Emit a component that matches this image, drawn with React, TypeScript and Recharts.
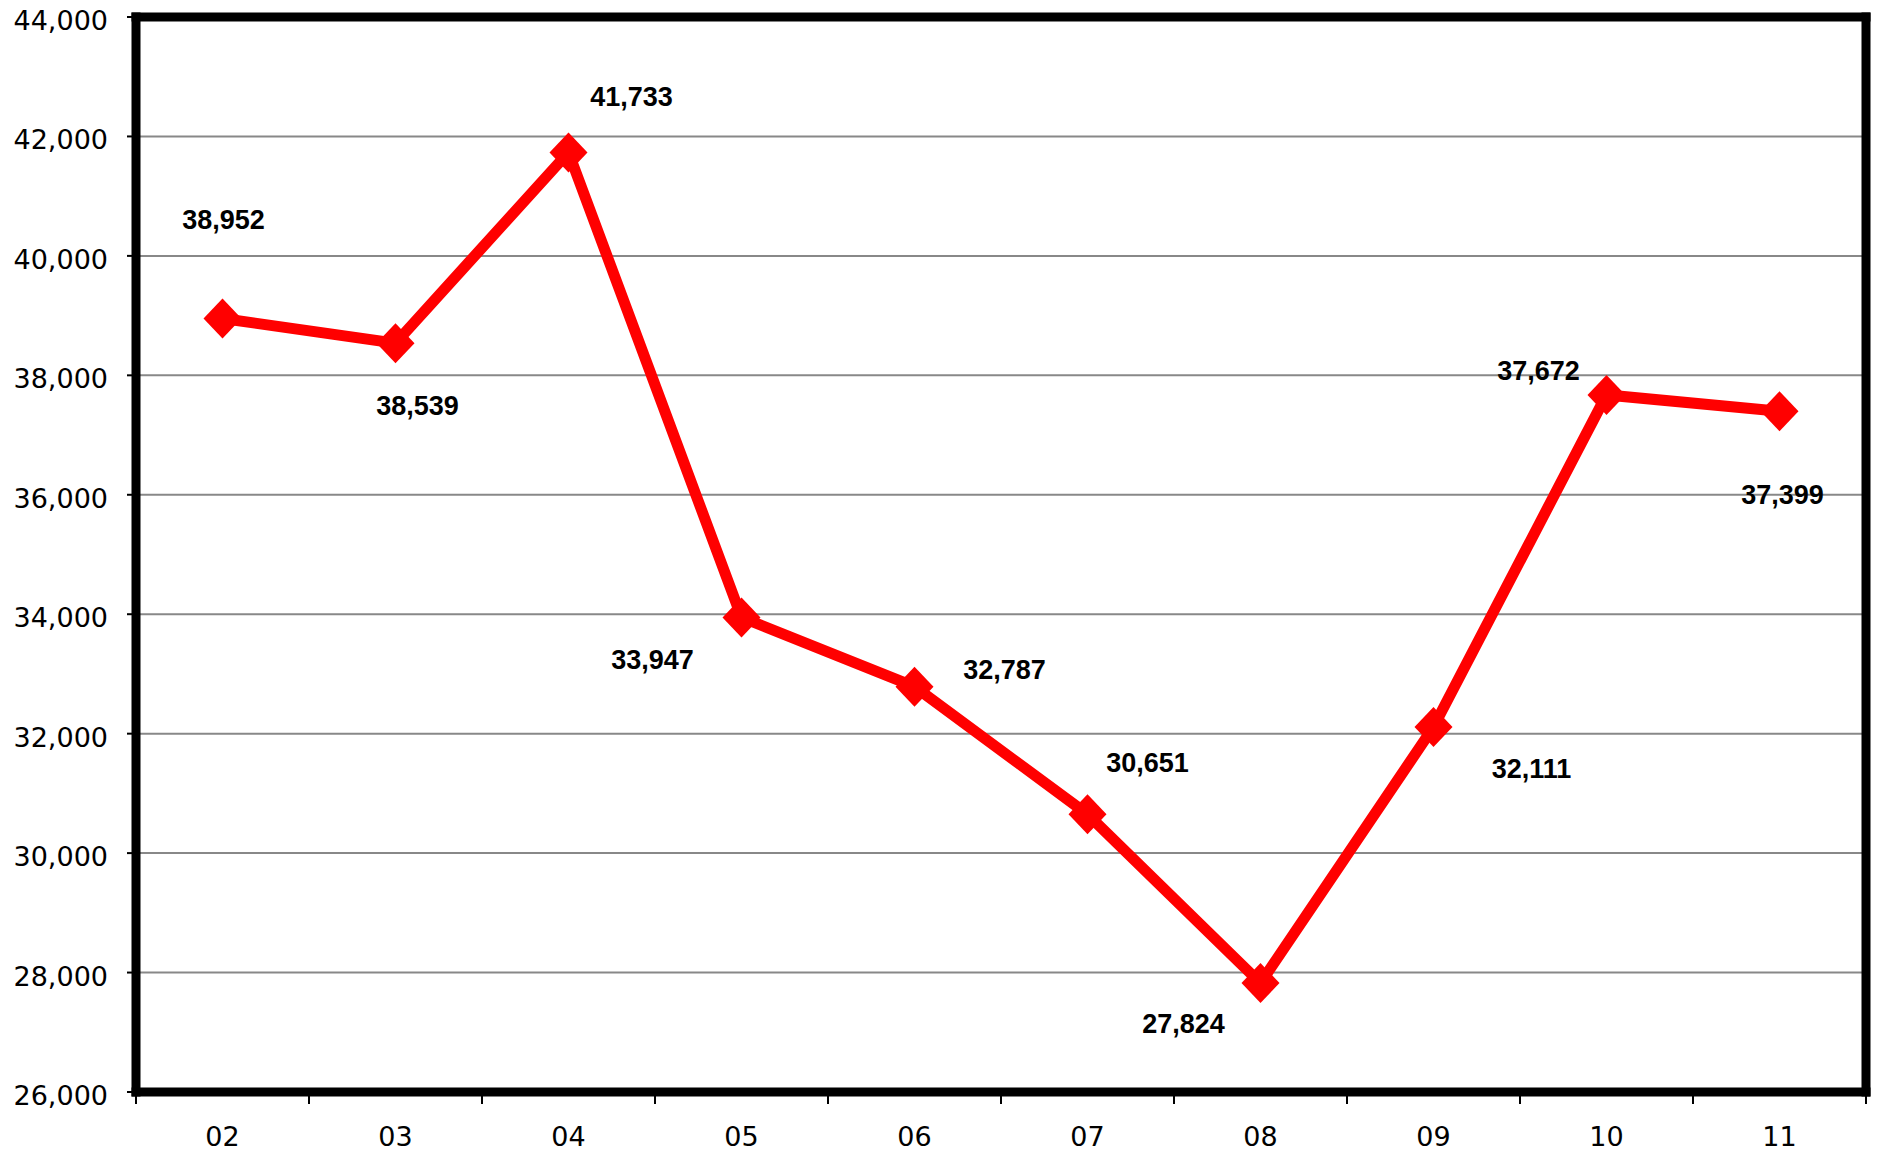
import React from "react";
import { LineChart, Line, XAxis, YAxis, CartesianGrid, LabelList } from "recharts";

const years = ["02", "03", "04", "05", "06", "07", "08", "09", "10", "11"];
const values = [38952, 38539, 41733, 33947, 32787, 30651, 27824, 32111, 37672, 37399];
const yTicks = [26000, 28000, 30000, 32000, 34000, 36000, 38000, 40000, 42000, 44000];
// where each value label sits relative to its marker, in px
const labelShift = [
  [1, -99], [22, 62], [63, -56], [-89, 42], [90, -17],
  [60, -52], [-77, 40], [98, 41], [-68, -25], [3, 83],
];

const data = years.map((year, i) => ({ year, value: values[i] }));

const W = 1881;
const H = 1159;
const margin = { top: 16, right: 14, bottom: 7, left: 0 };
const yAxisWidth = 136;
const rightAxisWidth = 1;
const band = (W - margin.left - margin.right - yAxisWidth - rightAxisWidth) / years.length;
const pad = { left: band / 2, right: band / 2 };
const frame = { stroke: "#000", strokeWidth: 9, strokeLinecap: "square" as const };

const fmt = (v: number) => v.toLocaleString("en-US");

const Diamond = (props: any) => {
  const { cx, cy } = props;
  if (cx == null || cy == null) return null;
  return (
    <polygon
      points={`${cx - 19},${cy} ${cx},${cy - 20} ${cx + 19},${cy} ${cx},${cy + 20}`}
      fill="#ff0000"
    />
  );
};

const XTick = (props: any) => {
  const { x, y, payload } = props;
  const index = props.index ?? payload.index;
  const left = x - band / 2;
  return (
    <g>
      <line x1={left} x2={left} y1={y} y2={y + 12} stroke="#000" strokeWidth={2} />
      {index === years.length - 1 && (
        <line x1={x + band / 2} x2={x + band / 2} y1={y} y2={y + 12} stroke="#000" strokeWidth={2} />
      )}
      <text
        x={x}
        y={y + 44}
        dy="0.365em"
        textAnchor="middle"
        fontFamily="DejaVu Sans"
        fontSize={27}
        fill="#000"
      >
        {payload.value}
      </text>
    </g>
  );
};

const YTick = (props: any) => {
  const { x, y, payload } = props;
  return (
    <text
      x={x}
      y={y}
      dy={13}
      textAnchor="end"
      fontFamily="DejaVu Sans"
      fontSize={27}
      fill="#000"
    >
      {fmt(payload.value)}
    </text>
  );
};

const ValueLabel = (props: any) => {
  const x = props.x ?? props.viewBox?.x;
  const y = props.y ?? props.viewBox?.y;
  const index = props.index ?? 0;
  if (x == null || y == null) return null;
  const [dx, dy] = labelShift[index];
  return (
    <text
      x={x + dx}
      y={y + dy}
      dy="0.358em"
      textAnchor="middle"
      fontFamily="Liberation Sans, Arial"
      fontWeight="bold"
      fontSize={27}
      fill="#000"
    >
      {fmt(Number(props.value))}
    </text>
  );
};

export default function App() {
  return (
    <div style={{ position: "absolute", left: 0, top: 0, width: W, height: H, background: "#fff" }}>
      <LineChart width={W} height={H} data={data} margin={margin}>
        <CartesianGrid vertical={false} stroke="#888" strokeWidth={2} />
        <XAxis
          dataKey="year"
          axisLine={frame}
          tickLine={false}
          tickSize={0}
          tickMargin={0}
          height={60}
          interval={0}
          padding={pad}
          tick={<XTick />}
        />
        <XAxis
          xAxisId="top"
          dataKey="year"
          orientation="top"
          height={1}
          padding={pad}
          interval={0}
          axisLine={frame}
          tick={false}
          tickLine={false}
        />
        <YAxis
          domain={[26000, 44000]}
          ticks={yTicks}
          width={yAxisWidth}
          axisLine={frame}
          tickLine={{ stroke: "#000", strokeWidth: 2 }}
          tickSize={9}
          tickMargin={19}
          interval={0}
          tick={<YTick />}
        />
        <YAxis
          yAxisId="right"
          orientation="right"
          domain={[26000, 44000]}
          ticks={yTicks}
          width={rightAxisWidth}
          axisLine={frame}
          tick={false}
          tickLine={false}
        />
        <Line
          type="linear"
          dataKey="value"
          stroke="#ff0000"
          strokeWidth={11}
          dot={<Diamond />}
          activeDot={false}
          isAnimationActive={false}
        >
          <LabelList dataKey="value" content={<ValueLabel />} />
        </Line>
      </LineChart>
    </div>
  );
}
